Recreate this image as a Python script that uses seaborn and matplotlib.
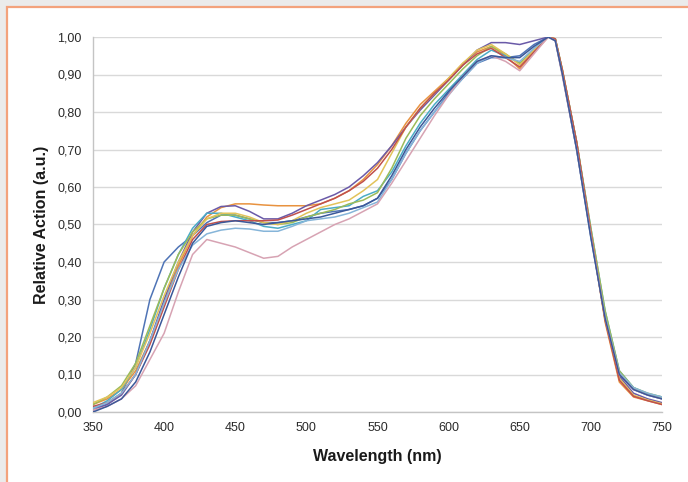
import numpy as np
import pandas as pd
import matplotlib
matplotlib.use("Agg")
import matplotlib.pyplot as plt
import seaborn as sns
from matplotlib.patches import Rectangle
from matplotlib.ticker import FuncFormatter, MultipleLocator

# 10 nm steps, plus an extra reading at 675 nm for the flat top of the peak
wavelength = list(range(350, 671, 10)) + [675] + list(range(680, 751, 10))

blue = [0.010, 0.020, 0.050, 0.130, 0.300, 0.400, 0.440, 0.470, 0.505, 0.525, 0.525,
        0.515, 0.505, 0.505, 0.510, 0.520, 0.530, 0.535, 0.540, 0.550, 0.570, 0.620,
        0.690, 0.750, 0.800, 0.850, 0.890, 0.930, 0.945, 0.945, 0.950, 0.980, 1.000, 0.990,
        0.900, 0.700, 0.470, 0.250, 0.100, 0.060, 0.045, 0.035]
orange = [0.020, 0.035, 0.060, 0.110, 0.190, 0.290, 0.390, 0.470, 0.520, 0.545, 0.555,
          0.555, 0.552, 0.550, 0.550, 0.550, 0.555, 0.570, 0.590, 0.620, 0.660, 0.710,
          0.770, 0.820, 0.855, 0.890, 0.930, 0.960, 0.975, 0.950, 0.915, 0.960, 1.000, 0.995,
          0.910, 0.720, 0.480, 0.240, 0.080, 0.040, 0.030, 0.020]
purple = [0.005, 0.020, 0.045, 0.100, 0.190, 0.300, 0.400, 0.480, 0.530, 0.548, 0.550,
          0.535, 0.515, 0.515, 0.530, 0.550, 0.565, 0.580, 0.600, 0.630, 0.665, 0.710,
          0.760, 0.805, 0.845, 0.885, 0.925, 0.965, 0.985, 0.985, 0.980, 0.990, 1.000, 0.992,
          0.905, 0.710, 0.475, 0.250, 0.095, 0.050, 0.035, 0.025]
teal = [0.010, 0.030, 0.060, 0.120, 0.220, 0.330, 0.420, 0.490, 0.530, 0.530, 0.520,
        0.510, 0.495, 0.490, 0.500, 0.510, 0.540, 0.545, 0.550, 0.575, 0.590, 0.640,
        0.710, 0.770, 0.820, 0.860, 0.900, 0.940, 0.965, 0.950, 0.930, 0.965, 1.000, 0.995,
        0.910, 0.720, 0.490, 0.270, 0.110, 0.065, 0.048, 0.040]
green = [0.020, 0.040, 0.070, 0.130, 0.230, 0.330, 0.420, 0.480, 0.515, 0.525, 0.525,
         0.515, 0.505, 0.500, 0.505, 0.520, 0.530, 0.540, 0.555, 0.565, 0.585, 0.650,
         0.730, 0.790, 0.835, 0.875, 0.915, 0.950, 0.975, 0.955, 0.930, 0.965, 1.000, 0.995,
         0.912, 0.720, 0.490, 0.270, 0.110, 0.065, 0.050, 0.040]
yellow = [0.025, 0.040, 0.065, 0.120, 0.210, 0.310, 0.400, 0.470, 0.515, 0.530, 0.530,
          0.520, 0.505, 0.500, 0.510, 0.530, 0.545, 0.555, 0.565, 0.590, 0.620, 0.690,
          0.760, 0.810, 0.850, 0.890, 0.930, 0.965, 0.980, 0.955, 0.925, 0.965, 1.000, 0.995,
          0.910, 0.715, 0.480, 0.250, 0.090, 0.045, 0.032, 0.022]
red = [0.015, 0.025, 0.050, 0.100, 0.180, 0.280, 0.380, 0.460, 0.500, 0.508, 0.510,
       0.510, 0.510, 0.512, 0.525, 0.540, 0.555, 0.570, 0.590, 0.615, 0.650, 0.700,
       0.760, 0.810, 0.850, 0.885, 0.925, 0.955, 0.970, 0.945, 0.920, 0.960, 1.000, 0.995,
       0.912, 0.720, 0.480, 0.245, 0.085, 0.042, 0.030, 0.020]
light_blue = [0.010, 0.025, 0.050, 0.100, 0.190, 0.290, 0.380, 0.445, 0.475, 0.485, 0.490,
              0.488, 0.482, 0.482, 0.495, 0.510, 0.515, 0.520, 0.530, 0.545, 0.560, 0.620,
              0.690, 0.750, 0.800, 0.845, 0.890, 0.930, 0.950, 0.945, 0.935, 0.970, 1.000, 0.990,
              0.900, 0.700, 0.465, 0.255, 0.105, 0.065, 0.050, 0.040]
pink = [0.005, 0.015, 0.035, 0.070, 0.140, 0.210, 0.320, 0.420, 0.460, 0.450, 0.440,
        0.425, 0.410, 0.415, 0.440, 0.460, 0.480, 0.500, 0.515, 0.535, 0.555, 0.610,
        0.670, 0.730, 0.790, 0.845, 0.895, 0.935, 0.950, 0.935, 0.910, 0.955, 1.000, 0.990,
        0.895, 0.700, 0.470, 0.250, 0.100, 0.060, 0.045, 0.035]
navy = [0.000, 0.015, 0.035, 0.080, 0.160, 0.260, 0.360, 0.450, 0.495, 0.505, 0.510,
        0.505, 0.500, 0.505, 0.510, 0.515, 0.520, 0.530, 0.540, 0.550, 0.570, 0.630,
        0.700, 0.760, 0.810, 0.855, 0.895, 0.935, 0.950, 0.945, 0.945, 0.975, 1.000, 0.990,
        0.900, 0.700, 0.465, 0.250, 0.100, 0.060, 0.045, 0.035]

series = {
    "blue": blue, "orange": orange, "purple": purple, "teal": teal, "green": green,
    "yellow": yellow, "red": red, "light_blue": light_blue, "pink": pink, "navy": navy,
}
palette = {
    "blue": "#4f74b6", "orange": "#e8923f", "purple": "#6a5aa8", "teal": "#4bacc6",
    "green": "#9bbb59", "yellow": "#e2c35a", "red": "#c0504d", "light_blue": "#86b5d9",
    "pink": "#d7a3b3", "navy": "#3b5899",
}

df = pd.concat(
    [pd.DataFrame({"wavelength": wavelength, "action": v, "sample": k}) for k, v in series.items()],
    ignore_index=True,
)

sns.set_theme(style="white")
plt.rcParams["font.family"] = ["Liberation Sans", "DejaVu Sans"]

fig = plt.figure(figsize=(6.88, 4.82), dpi=100, facecolor="#ebebeb")
frame = Rectangle((7 / 688, -0.1), 1.2, 1.1 - 7 / 482, transform=fig.transFigure,
                  facecolor="white", edgecolor="#f3a27c", linewidth=1.6, zorder=-5)
fig.patches.append(frame)
ax = fig.add_axes([93 / 688, 70 / 482, 569 / 688, 375 / 482])
ax.set_zorder(2)
ax.set_facecolor("none")

sns.lineplot(data=df, x="wavelength", y="action", hue="sample", palette=palette,
             linewidth=1.1, legend=False, ax=ax, zorder=3)

ax.set_xlim(350, 750)
ax.set_ylim(0, 1.0)
ax.xaxis.set_major_locator(MultipleLocator(50))
ax.yaxis.set_major_locator(MultipleLocator(0.1))
ax.yaxis.set_major_formatter(FuncFormatter(lambda v, _: f"{v:.2f}".replace(".", ",")))
ax.grid(axis="y", color="#d9d9d9", linewidth=1.0)
ax.set_axisbelow(True)

for side in ("top", "right"):
    ax.spines[side].set_visible(False)
for side in ("left", "bottom"):
    ax.spines[side].set_color("#c4c4c4")
    ax.spines[side].set_linewidth(1.0)

ax.tick_params(axis="both", which="major", length=3, width=0.8, color="#c4c4c4",
               labelsize=9, labelcolor="#2a2a2a", direction="out")
ax.tick_params(axis="y", pad=5)
ax.tick_params(axis="x", pad=4)

ax.set_xlabel("Wavelength (nm)", fontsize=11.5, fontweight="bold", color="#1a1a1a", va="center")
ax.set_ylabel("Relative Action (a.u.)", fontsize=11.5, fontweight="bold", color="#1a1a1a", va="center")
ax.xaxis.set_label_coords(0.5, (412 - 457) / 375)
ax.yaxis.set_label_coords((42 - 93) / 569, 0.5)

fig.savefig("out.png", dpi=100, facecolor=fig.get_facecolor())
